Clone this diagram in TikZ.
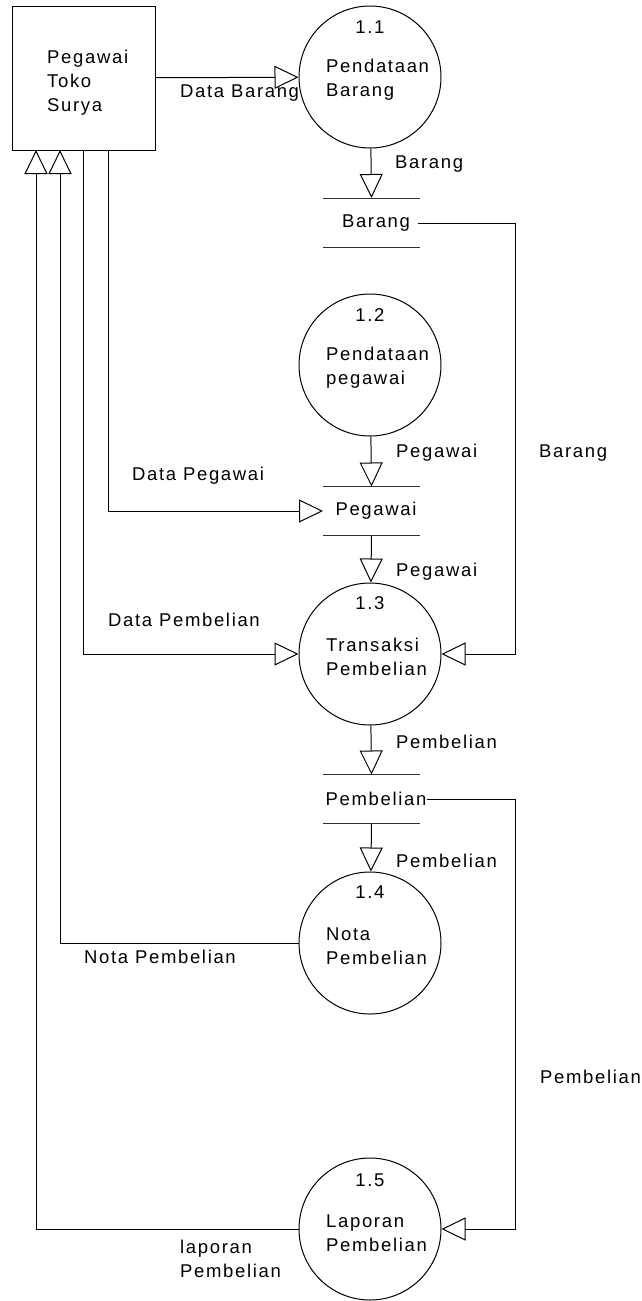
\documentclass[tikz,border=0pt]{standalone}
\usepackage{fontspec}
\setmainfont{Liberation Sans}[LetterSpace=9]
\usetikzlibrary{arrows.meta}

\tikzset{
  base/.style={font=\fontsize{18.5}{24}\selectfont, inner sep=0pt},
  entity/.style={base, draw, line width=1pt, minimum width=143, minimum height=144},
  proc/.style={base, draw, circle, line width=1pt, minimum size=142},
  store/.style={base},
  storeline/.style={line width=1pt, black!80},
  txt/.style={base, anchor=west, align=left},
  num/.style={base},
  flow/.style={line width=1pt, -{Triangle[open, length=24pt, width=23pt]}},
}

\begin{document}
\begin{tikzpicture}[x=1pt, y=-1pt]
  \useasboundingbox (0,0) rectangle (641,1301);
  \clip (0,0) rectangle (641,1301);

  % external entity
  \node[entity] (box) at (83.5,78) {};
  \node[txt] (boxtxt) at (47,83) {Pegawai\\Toko\\Surya};

  % processes
  \node[proc] (p11) at (370,77) {};
  \node[num] (n11) at (370,27) {1.1};
  \node[txt] (t11) at (326,80) {Pendataan\\Barang};

  \node[proc] (p12) at (370,365) {};
  \node[num] (n12) at (370,315) {1.2};
  \node[txt] (t12) at (326,368) {Pendataan\\pegawai};

  \node[proc] (p13) at (370,654) {};
  \node[num] (n13) at (370,603) {1.3};
  \node[txt] (t13) at (326,657) {Transaksi\\Pembelian};

  \node[proc] (p14) at (370,943) {};
  \node[num] (n14) at (370,892) {1.4};
  \node[txt] (t14) at (326,946) {Nota\\Pembelian};

  \node[proc] (p15) at (370,1229) {};
  \node[num] (n15) at (370,1180) {1.5};
  \node[txt] (t15) at (326,1233) {Laporan\\Pembelian};

  % data stores: a label between two horizontal lines
  \node[store] (sB) at (376,223) {Barang};
  \node[store] (sP) at (376,511) {Pegawai};
  \node[store] (sPb) at (376,799) {Pembelian};
  \foreach \s/\y in {sB/222.5,sP/511,sPb/799}{
    \coordinate (\s-tl) at (323,\y-24.5);
    \coordinate (\s-tr) at (420,\y-24.5);
    \coordinate (\s-bl) at (323,\y+24.5);
    \coordinate (\s-br) at (420,\y+24.5);
    \coordinate (\s-top) at (371.5,\y-24.5);
    \coordinate (\s-bot) at (371.5,\y+24.5);
    \coordinate (\s-in) at (323,\y);
    \draw[storeline] (\s-tl) -- (\s-tr);
    \draw[storeline] (\s-bl) -- (\s-br);
  }
  \coordinate (sB-out) at (418,223);

  % attachment points on the entity's lower side and the right-hand return lines
  \coordinate (e1) at (36,150);
  \coordinate (e2) at (60,150);
  \coordinate (e3) at (83.5,150);
  \coordinate (e4) at (108,150);
  \coordinate (rr) at (515,0);

  % flows
  \draw[flow] (box) -- (p11);
  \draw[flow] (p11) -- (sB-top);
  \draw[flow] (sB-out) -| (rr |- p13.east) -- (p13.east);
  \draw[flow] (p12) -- (sP-top);
  \draw[flow] (e4) |- (sP-in);
  \draw[flow] (sP-bot) -- (p13);
  \draw[flow] (e3) |- (p13.west);
  \draw[flow] (p13) -- (sPb-top);
  \draw[flow] (sPb-bot) -- (p14);
  \draw[flow] (p14.west) -| (e2);
  \draw[flow] (sPb.east) -| (rr |- p15.east) -- (p15.east);
  \draw[flow] (p15.west) -| (e1);

  % flow labels
  \node[txt] (lDB) at (180,93) {Data Barang};
  \node[txt] (lB1) at (395,164) {Barang};
  \node[txt] (lB2) at (539,453) {Barang};
  \node[txt] (lP1) at (396,453) {Pegawai};
  \node[txt] (lDP) at (132,476) {Data Pegawai};
  \node[txt] (lP2) at (396,572) {Pegawai};
  \node[txt] (lDPb) at (108,620) {Data Pembelian};
  \node[txt] (lPb1) at (396,742) {Pembelian};
  \node[txt] (lPb2) at (396,861) {Pembelian};
  \node[txt] (lNP) at (84,957) {Nota Pembelian};
  \node[txt] (lPb3) at (540,1077) {Pembelian};
  \node[txt] (lLP) at (180,1259) {laporan\\Pembelian};
\end{tikzpicture}
\end{document}
